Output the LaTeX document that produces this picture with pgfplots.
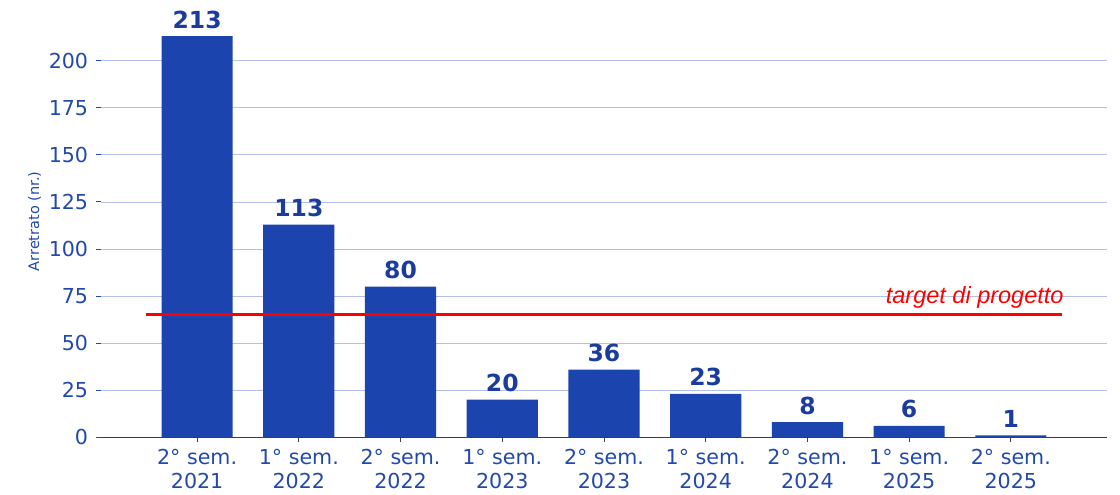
\documentclass[border=0pt]{standalone}
\usepackage{fontspec}
\setmainfont{DejaVu Sans}
\newfontfamily\arialfont{Liberation Sans}
\usepackage{pgfplots}
\pgfplotsset{compat=1.18}
\definecolor{barblue}{HTML}{1B44AF}
\definecolor{lblblue}{HTML}{1A3C9F}
\definecolor{tickblue}{HTML}{2148AC}
\definecolor{gridblue}{HTML}{B4C0E8}
\definecolor{spineblue}{HTML}{1B3A9E}
\begin{document}
\begin{tikzpicture}
\useasboundingbox (0,0) rectangle (1120pt,495pt);
\begin{axis}[
  at={(100.5pt,57.7pt)}, anchor=south west,
  scale only axis, width=1007pt, height=421.8pt,
  xmin=-0.95, xmax=8.95, ymin=0, ymax=224,
  ybar, bar width=0.7,
  axis x line*=bottom, axis y line*=left,
  separate axis lines,
  y axis line style={draw=none},
  x axis line style={color=spineblue, line width=1.2pt},
  tick align=outside, major tick length=4.7pt,
  x tick style={color=black!75, line width=0.9pt},
  y tick style={color=tickblue, line width=0.9pt},
  xtick={0,...,8},
  xticklabels={{2° sem.\\2021},{1° sem.\\2022},{2° sem.\\2022},{1° sem.\\2023},{2° sem.\\2023},{1° sem.\\2024},{2° sem.\\2024},{1° sem.\\2025},{2° sem.\\2025}},
  xticklabel style={align=center, font=\fontsize{20.6}{24}\selectfont, text=tickblue, inner sep=0pt, yshift=-7pt},
  ytick={0,25,...,200},
  yticklabel style={font=\fontsize{20.6}{24}\selectfont, text=tickblue, inner sep=0pt, xshift=-7.5pt},
  /pgf/number format/assume math mode=true,
  ymajorgrids, grid style={color=gridblue, line width=0.8pt},
  ylabel={Arretrato (nr.)},
  ylabel style={at={(axis description cs:0,0.5)}, anchor=center, yshift=66pt, xshift=5pt, font=\fontsize{14.5}{17}\selectfont, text=tickblue},
  nodes near coords,
  every node near coord/.append style={anchor=south, inner sep=0pt, yshift=7.5pt, font=\bfseries\fontsize{23.5}{28}\selectfont, text=lblblue},
  clip=false,
]
\addplot[fill=barblue, draw=none] coordinates {(0,213) (1,113) (2,80) (3,20) (4,36) (5,23) (6,8) (7,6) (8,1)};
\addplot[sharp plot, draw=red, line width=3.2pt, nodes near coords={}, forget plot] coordinates {(-0.5,65) (8.5,65)};
\node[anchor=base east, inner sep=0pt, text=red, font=\arialfont\itshape\fontsize{23.5}{27}\selectfont] at (axis cs:8.52,71.2) {target di progetto};
\end{axis}
\end{tikzpicture}
\end{document}
